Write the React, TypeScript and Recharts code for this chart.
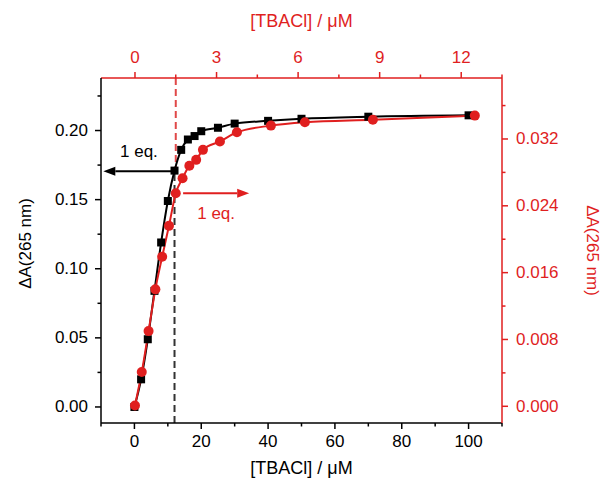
import React from 'react';
import { ComposedChart, Line, XAxis, YAxis, ReferenceLine } from 'recharts';

// Black series: bottom axis [TBACl] / µM vs left ΔA(265 nm)
const blackX = [0, 2, 4, 6, 8, 10, 12, 14, 16, 18, 20, 25, 30, 40, 50, 70, 100];
const blackY = [0.0, 0.02, 0.049, 0.084, 0.119, 0.149, 0.171, 0.186, 0.1935, 0.196, 0.1995, 0.202, 0.205, 0.207, 0.2085, 0.21, 0.211];
// Red series: top axis [TBACl] / µM vs right ΔA(265 nm)
const redX = [0, 0.25, 0.5, 0.75, 1, 1.25, 1.5, 1.75, 2, 2.25, 2.5, 3.125, 3.75, 5, 6.25, 8.75, 12.5];
const redY = [0.0001, 0.0041, 0.009, 0.014, 0.0179, 0.0216, 0.0255, 0.0273, 0.0288, 0.0295, 0.0307, 0.0317, 0.0328, 0.0336, 0.034, 0.0343, 0.0348];

const bottomMajor = [0, 20, 40, 60, 80, 100];
const bottomMinor = [-10, 10, 30, 50, 70, 90, 110];
const topMajor = [0, 3, 6, 9, 12];
const topMinor = [1.5, 4.5, 7.5, 10.5, 13.5];
const leftMajor = [0, 0.05, 0.1, 0.15, 0.2];
const leftMinor = [0.025, 0.075, 0.125, 0.175, 0.225];
const rightMajor = [0, 0.008, 0.016, 0.024, 0.032];
const rightMinor = [0.004, 0.012, 0.02, 0.028, 0.036];

const bottomDomain: [number, number] = [-10, 110];
const topDomain: [number, number] = [-1.25, 13.5];
const leftDomain: [number, number] = [-0.0116, 0.238];
const rightDomain: [number, number] = [-0.002, 0.0393];

const eqX = 12; // 1 eq. on bottom axis
const eqXTop = 1.5; // 1 eq. on top axis

const RED = '#e01f1f';
const BLACK = '#000000';
const FONT = '"Liberation Sans", Arial, sans-serif';
const FS = 17;

const blackData = blackX.map((x, i) => ({ x, y: blackY[i] }));
const redData = redX.map((x, i) => ({ x, y: redY[i] }));

const isIn = (arr: number[], v: number) => arr.some((m) => Math.abs(m - v) < 1e-9);

const makeTick = (orient: string, majors: number[], digits: number, color: string) => (props: any) => {
  const { x, y, payload } = props;
  const v = payload.value;
  const major = isIn(majors, v);
  const len = major ? 6 : 3.5;
  const label = major ? v.toFixed(digits) : '';
  let line: any = null;
  let text: any = null;
  if (orient === 'bottom') {
    line = <line x1={x} y1={y} x2={x} y2={y + len} stroke={color} strokeWidth={1.5} />;
    text = <text x={x} y={y + 18} textAnchor="middle" dominantBaseline="central" fill={color} fontSize={FS} fontFamily={FONT}>{label}</text>;
  } else if (orient === 'top') {
    line = <line x1={x} y1={y} x2={x} y2={y - len} stroke={color} strokeWidth={1.5} />;
    text = <text x={x} y={y - 21} textAnchor="middle" dominantBaseline="central" fill={color} fontSize={FS} fontFamily={FONT}>{label}</text>;
  } else if (orient === 'left') {
    line = <line x1={x} y1={y} x2={x - len} y2={y} stroke={color} strokeWidth={1.5} />;
    text = <text x={x - 13} y={y} textAnchor="end" dominantBaseline="central" fill={color} fontSize={FS} fontFamily={FONT}>{label}</text>;
  } else {
    line = <line x1={x} y1={y} x2={x + len} y2={y} stroke={color} strokeWidth={1.5} />;
    text = <text x={x + 14} y={y} textAnchor="start" dominantBaseline="central" fill={color} fontSize={FS} fontFamily={FONT}>{label}</text>;
  }
  return (
    <g>
      {line}
      {major ? text : null}
    </g>
  );
};

const titleContent = (kind: string) => (p: any) => {
  const vb = p && p.viewBox ? p.viewBox : null;
  const txt = kind === 'left' || kind === 'right' ? 'ΔA(265 nm)' : '[TBACl] / μM';
  if (kind === 'bottom') {
    const cx = vb ? vb.x + vb.width / 2 : 301.5;
    const cy = vb ? vb.y + 45 : 468;
    return <text x={cx} y={cy} textAnchor="middle" dominantBaseline="central" fill={BLACK} fontSize={FS + 1} fontFamily={FONT}>{txt}</text>;
  }
  if (kind === 'top') {
    const cx = vb ? vb.x + vb.width / 2 : 301.5;
    return <text x={cx} y={21} textAnchor="middle" dominantBaseline="central" fill={RED} fontSize={FS + 1} fontFamily={FONT}>{txt}</text>;
  }
  if (kind === 'left') {
    const cy = vb ? vb.y + vb.height / 2 - 7 : 243;
    return <text x={25} y={cy} transform={`rotate(-90 25 ${cy})`} textAnchor="middle" dominantBaseline="central" fill={BLACK} fontSize={FS} fontFamily={FONT}>{txt}</text>;
  }
  const cy = vb ? vb.y + vb.height / 2 : 250;
  const cx = vb ? vb.x + vb.width - 11 : 592;
  return <text x={cx} y={cy} transform={`rotate(90 ${cx} ${cy})`} textAnchor="middle" dominantBaseline="central" fill={RED} fontSize={FS} fontFamily={FONT}>{txt}</text>;
};

const arrowShape = (color: string, labelDy: number) => (props: any) => {
  const { x1, y1, x2, y2 } = props;
  const dir = Math.sign(x2 - x1) || 1;
  const hl = 12;
  const hw = 4.5;
  return (
    <g>
      <line x1={x1} y1={y1} x2={x2 - dir * hl} y2={y2} stroke={color} strokeWidth={2} />
      <polygon points={`${x2},${y2} ${x2 - dir * hl},${y2 - hw} ${x2 - dir * hl},${y2 + hw}`} fill={color} />
      <text x={(x1 + x2) / 2} y={y1 + labelDy} textAnchor="middle" dominantBaseline="central" fill={color} fontSize={FS} fontFamily={FONT}>1 eq.</text>
    </g>
  );
};

const squareDot = (p: any) => {
  const { cx, cy, index } = p;
  if (cx == null || cy == null) return <g key={`s${index}`} />;
  return <rect key={`s${index}`} x={cx - 4} y={cy - 4} width={8} height={8} fill={BLACK} />;
};

export default function App() {
  return (
    <div style={{ position: 'absolute', left: 0, top: 0, width: 603, height: 484, background: '#fff' }}>
      <ComposedChart width={603} height={484} margin={{ top: 0, right: 0, bottom: 0, left: 0 }}>
        <XAxis
          xAxisId="b"
          type="number"
          dataKey="x"
          orientation="bottom"
          domain={bottomDomain}
          allowDataOverflow
          ticks={[...bottomMinor, ...bottomMajor].sort((a, b) => a - b)}
          interval={0}
          height={61}
          tickSize={0}
          tickMargin={0}
          tickLine={false}
          axisLine={{ stroke: BLACK, strokeWidth: 1.5 }}
          tick={makeTick('bottom', bottomMajor, 0, BLACK)}
          label={{ content: titleContent('bottom') }}
        />
        <XAxis
          xAxisId="t"
          type="number"
          dataKey="x"
          orientation="top"
          domain={topDomain}
          allowDataOverflow
          ticks={[...topMinor, ...topMajor].sort((a, b) => a - b)}
          interval={0}
          height={78}
          tickSize={0}
          tickMargin={0}
          tickLine={false}
          axisLine={{ stroke: RED, strokeWidth: 1.5 }}
          tick={makeTick('top', topMajor, 0, RED)}
          label={{ content: titleContent('top') }}
        />
        <YAxis
          yAxisId="l"
          type="number"
          orientation="left"
          domain={leftDomain}
          allowDataOverflow
          ticks={[...leftMinor, ...leftMajor].sort((a, b) => a - b)}
          interval={0}
          width={101}
          tickSize={0}
          tickMargin={0}
          tickLine={false}
          axisLine={{ stroke: BLACK, strokeWidth: 1.5 }}
          tick={makeTick('left', leftMajor, 2, BLACK)}
          label={{ content: titleContent('left') }}
        />
        <YAxis
          yAxisId="r"
          type="number"
          orientation="right"
          domain={rightDomain}
          allowDataOverflow
          ticks={[...rightMinor, ...rightMajor].sort((a, b) => a - b)}
          interval={0}
          width={101}
          tickSize={0}
          tickMargin={0}
          tickLine={false}
          axisLine={{ stroke: RED, strokeWidth: 1.5 }}
          tick={makeTick('right', rightMajor, 3, RED)}
          label={{ content: titleContent('right') }}
        />
        <ReferenceLine
          xAxisId="b"
          yAxisId="l"
          segment={[{ x: eqX, y: leftDomain[0] }, { x: eqX, y: 0.171 }]}
          stroke="#333"
          strokeWidth={2}
          strokeDasharray="7 4"
        />
        <ReferenceLine
          xAxisId="t"
          yAxisId="r"
          segment={[{ x: eqXTop, y: rightDomain[1] }, { x: eqXTop, y: 0.0282 }]}
          stroke="#e04848"
          strokeWidth={2}
          strokeDasharray="7 4"
        />
        <Line
          xAxisId="b"
          yAxisId="l"
          data={blackData}
          dataKey="y"
          type="monotone"
          stroke={BLACK}
          strokeWidth={2}
          dot={squareDot}
          activeDot={false}
          isAnimationActive={false}
        />
        <Line
          xAxisId="t"
          yAxisId="r"
          data={redData}
          dataKey="y"
          type="monotone"
          stroke={RED}
          strokeWidth={2}
          dot={{ r: 5, fill: RED, stroke: RED, strokeWidth: 0 }}
          activeDot={false}
          isAnimationActive={false}
        />
        <ReferenceLine
          xAxisId="b"
          yAxisId="l"
          segment={[{ x: eqX, y: 0.1705 }, { x: -9.3, y: 0.1705 }]}
          shape={arrowShape(BLACK, -20)}
        />
        <ReferenceLine
          xAxisId="t"
          yAxisId="r"
          segment={[{ x: 1.77, y: 0.0255 }, { x: 4.2, y: 0.0255 }]}
          shape={arrowShape(RED, 20)}
        />
      </ComposedChart>
    </div>
  );
}
